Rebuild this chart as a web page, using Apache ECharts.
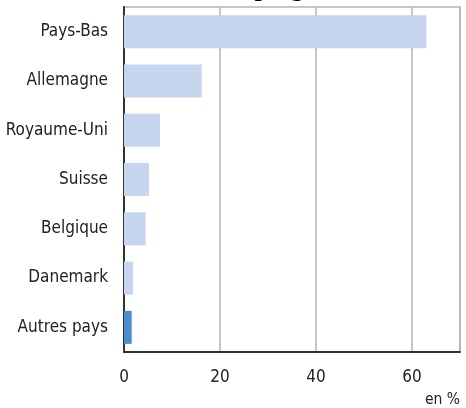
<!DOCTYPE html>
<html>
<head>
<meta charset="utf-8">
<script src="https://cdn.jsdelivr.net/npm/echarts@6/dist/echarts.min.js"></script>
<style>
  html, body { margin: 0; padding: 0; background: #fff; }
  #chart { width: 466px; height: 408px; }
</style>
</head>
<body>
<div id="chart"></div>
<script>
// Répartition des nuitées par pays d'origine (en %)
const countries = ['Pays-Bas', 'Allemagne', 'Royaume-Uni', 'Suisse', 'Belgique', 'Danemark', 'Autres pays'];
const shares = [63, 16.2, 7.5, 5.2, 4.5, 1.9, 1.6];
const xTicks = [0, 20, 40, 60];
const titleText = 'Campings';

const labelFont = '"DejaVu Sans Condensed", "Liberation Sans", sans-serif';

const chart = echarts.init(document.getElementById('chart'), null, { renderer: 'canvas' });

chart.setOption({
  animation: false,
  backgroundColor: '#ffffff',
  title: {
    text: titleText,
    left: 196,
    top: -29,
    textStyle: {
      fontFamily: '"Liberation Serif", serif',
      fontWeight: 'bold',
      fontSize: 26,
      color: '#000'
    }
  },
  grid: {
    left: 124, right: 6, top: 7, bottom: 56,
    show: true,
    borderColor: '#b4b4b4',
    borderWidth: 1.5
  },
  xAxis: {
    type: 'value',
    min: 0,
    max: 70,
    interval: 20,
    name: 'en %',
    nameLocation: 'end',
    nameGap: 0,
    nameTextStyle: {
      fontFamily: labelFont, fontSize: 15.5, color: '#222',
      align: 'right', verticalAlign: 'top',
      padding: [40, 0, 0, 0]
    },
    axisLine: { show: true, lineStyle: { color: '#333', width: 2 } },
    axisTick: { show: false },
    splitLine: { show: true, lineStyle: { color: '#b4b4b4', width: 1.5 } },
    axisLabel: {
      margin: 17,
      fontFamily: labelFont, fontSize: 17, color: '#222',
      formatter: v => (xTicks.indexOf(v) >= 0 ? String(v) : '')
    }
  },
  yAxis: {
    type: 'category',
    data: countries,
    inverse: true,
    axisLine: { show: true, lineStyle: { color: '#333', width: 2 } },
    axisTick: { show: false },
    axisLabel: {
      margin: 16,
      fontFamily: labelFont, fontSize: 17, color: '#222'
    }
  },
  series: [{
    type: 'bar',
    data: shares.map((v, i) => ({
      value: v,
      itemStyle: { color: i === shares.length - 1 ? '#4a8dcd' : '#c6d6ee' }
    })),
    barCategoryGap: '33%',
    z: 1
  }]
});
</script>
</body>
</html>
